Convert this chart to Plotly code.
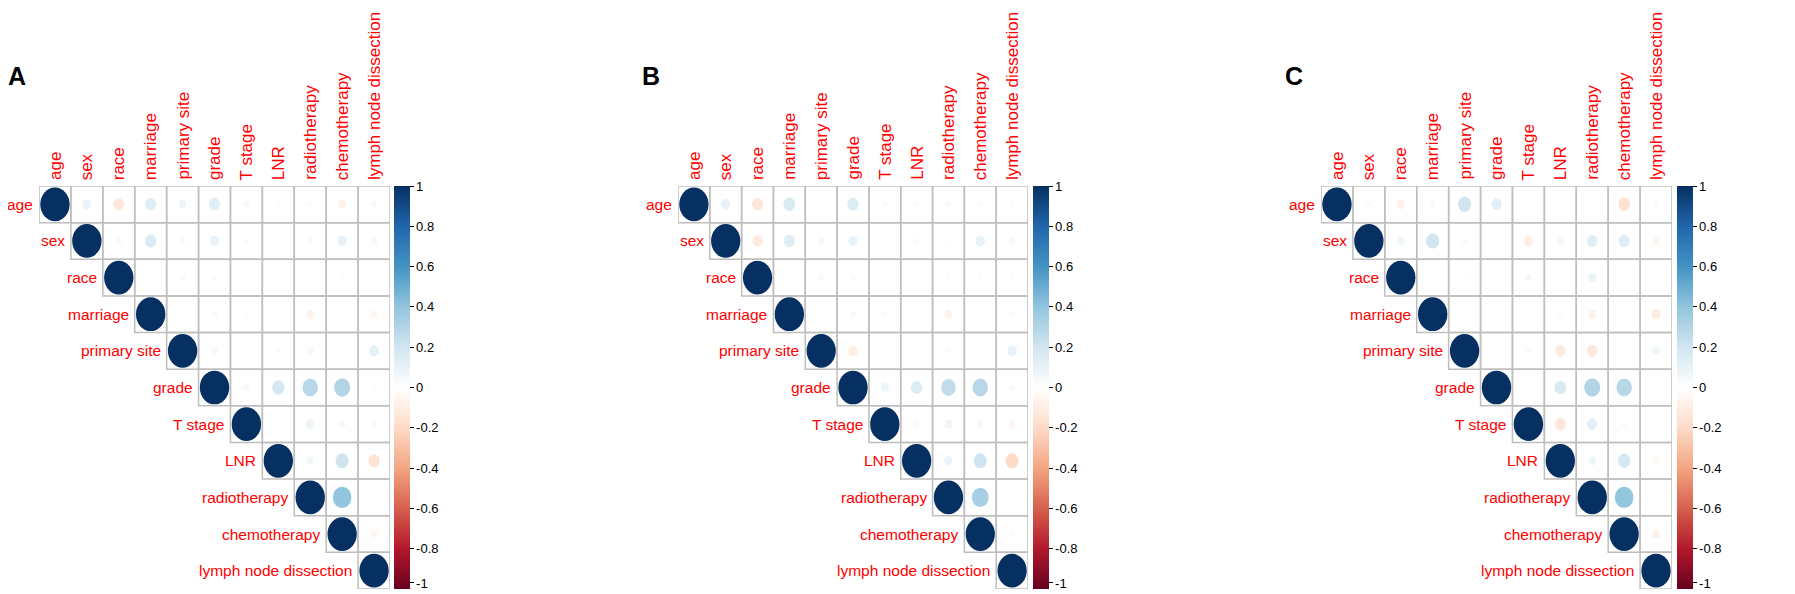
import numpy as np
import plotly.graph_objects as go
from plotly.colors import sample_colorscale

variables = ["age", "sex", "race", "marriage", "primary site", "grade",
             "T stage", "LNR", "radiotherapy", "chemotherapy",
             "lymph node dissection"]

panel_letters = ["A", "B", "C"]

# upper triangle of each correlation matrix, row by row from the diagonal
corr_a = [
    [1, 0.09, -0.13, 0.14, 0.07, 0.14, 0.04, -0.02, -0.03, -0.07, 0.04],
    [1, -0.04, 0.15, 0.04, 0.10, -0.03, 0.01, 0.04, 0.10, -0.05],
    [1, 0.01, -0.04, -0.03, 0.00, 0.00, 0.00, -0.02, 0.01],
    [1, 0.00, 0.04, -0.02, 0.00, -0.07, 0.00, -0.05],
    [1, -0.05, 0.00, -0.03, -0.05, 0.01, 0.11],
    [1, 0.05, 0.18, 0.28, 0.30, -0.02],
    [1, 0.00, 0.08, 0.05, -0.04],
    [1, 0.06, 0.20, -0.15],
    [1, 0.40, 0.00],
    [1, -0.05],
    [1],
]

corr_b = [
    [1, 0.10, -0.14, 0.16, 0.01, 0.15, 0.03, -0.03, -0.04, -0.03, 0.02],
    [1, -0.12, 0.14, 0.05, 0.10, 0.01, -0.03, -0.02, 0.10, -0.05],
    [1, 0.01, -0.04, -0.03, 0.01, 0.00, -0.02, -0.02, -0.02],
    [1, 0.00, 0.04, -0.03, 0.00, -0.07, 0.00, -0.03],
    [1, -0.10, 0.00, 0.01, -0.03, 0.00, 0.10],
    [1, 0.08, 0.15, 0.25, 0.28, -0.04],
    [1, 0.03, 0.07, 0.06, -0.06],
    [1, 0.08, 0.20, -0.20],
    [1, 0.33, 0.00],
    [1, -0.03],
    [1],
]

corr_c = [
    [1, 0.03, -0.08, 0.04, 0.20, 0.12, 0.02, 0.00, -0.02, -0.16, 0.03],
    [1, 0.07, 0.20, 0.03, 0.02, -0.10, 0.06, 0.13, 0.14, -0.06],
    [1, -0.01, -0.02, 0.00, 0.05, 0.00, 0.08, 0.01, 0.00],
    [1, 0.00, 0.01, 0.00, -0.03, -0.07, 0.01, -0.10],
    [1, 0.01, 0.03, -0.12, -0.13, 0.00, 0.07],
    [1, 0.01, 0.16, 0.30, 0.28, 0.00],
    [1, -0.14, 0.12, 0.03, -0.02],
    [1, 0.07, 0.18, -0.05],
    [1, 0.40, 0.01],
    [1, -0.07],
    [1],
]

cbar_ticks = [1, 0.8, 0.6, 0.4, 0.2, 0, -0.2, -0.4, -0.6, -0.8, -1]

# corrplot RdBu palette
rdbu = ["#67001F", "#B2182B", "#D6604D", "#F4A582", "#FDDBC7", "#FFFFFF",
        "#D1E5F0", "#92C5DE", "#4393C3", "#2166AC", "#053061"]
colorscale = [[k / 10, c] for k, c in enumerate(rdbu)]

W, H = 1795, 594
OFF = 8  # default body margin of the html page
FW, FH = W - OFF, H - OFF
grid_col = "#BEBEBE"
lab_col = "#FF0000"
font_lab = "Liberation Sans, Arial, sans-serif"


def px(x):
    # page pixel -> paper x
    return (x - OFF) / FW


def py(y):
    # page pixel (from top) -> paper y
    return 1 - (y - OFF) / FH


# page placement of each panel: grid left, grid right, colorbar left, letter x
panel_px = [(39, 390, 394, 17), (678, 1028, 1033, 651), (1321, 1672, 1677, 1294)]
grid_top, grid_bot = 186, 589

fig = go.Figure()
shapes = []
annotations = []

for p, corr in enumerate([corr_a, corr_b, corr_c]):
    sfx = "" if p == 0 else str(p + 1)
    xref, yref = "x" + sfx, "y" + sfx
    gx0, gx1, cbx, letx = panel_px[p]

    xs, ys, vals, txt = [], [], [], []
    for i, row in enumerate(corr):
        for k, r in enumerate(row):
            j = i + k
            xs.append(j)
            ys.append(i)
            vals.append(r)
            txt.append("%s / %s: %.2f" % (variables[i], variables[j], r))
            shapes.append(dict(type="rect", xref=xref, yref=yref,
                               x0=j - 0.5, x1=j + 0.5, y0=i - 0.5, y1=i + 0.5,
                               line=dict(color=grid_col, width=1.5),
                               fillcolor="rgba(0,0,0,0)", layer="above"))

    # circles after the grid, radius ~ sqrt(|r|) like corrplot
    for xx, yy, r in zip(xs, ys, vals):
        rad = 0.46 * np.sqrt(abs(r))
        if rad < 0.01:
            continue
        col = sample_colorscale(colorscale, [(r + 1) / 2])[0]
        shapes.append(dict(type="circle", xref=xref, yref=yref,
                           x0=xx - rad, x1=xx + rad, y0=yy - rad, y1=yy + rad,
                           fillcolor=col, line=dict(width=0), layer="above"))

    # bottom tick nudged up a little so its "-1" label stays on the page
    tick_pos = [t if t > -1 else -0.97 for t in cbar_ticks]
    fig.add_trace(go.Scatter(
        x=xs, y=ys, mode="markers", xaxis=xref, yaxis=yref,
        hovertext=txt, hoverinfo="text",
        marker=dict(color=vals, colorscale=colorscale, cmin=-1, cmax=1,
                    size=24, opacity=0, showscale=True,
                    colorbar=dict(x=px(cbx), xanchor="left", xpad=0,
                                  y=py(grid_bot), yanchor="bottom", ypad=0,
                                  len=(grid_bot - grid_top) / FH, lenmode="fraction",
                                  thickness=16, outlinewidth=0,
                                  tickvals=tick_pos,
                                  ticktext=[("%g" % t) for t in cbar_ticks],
                                  ticks="outside", ticklen=4, tickwidth=1,
                                  tickcolor="black", ticklabeloverflow="allow",
                                  tickfont=dict(family=font_lab, size=13, color="black"))),
        showlegend=False))

    fig.layout["xaxis" + sfx] = dict(domain=[px(gx0), px(gx1)], range=[-0.5, 10.5],
                                    visible=False, fixedrange=True, anchor=yref)
    fig.layout["yaxis" + sfx] = dict(domain=[py(grid_bot), py(grid_top)],
                                    range=[10.5, -0.5], visible=False,
                                    fixedrange=True, anchor=xref)

    for i, name in enumerate(variables):
        # row labels, left of the diagonal cell
        annotations.append(dict(text=name, xref=xref, yref=yref, x=i - 0.5, y=i,
                                xanchor="right", yanchor="middle", xshift=-5,
                                showarrow=False, borderpad=0,
                                font=dict(family=font_lab, size=15.5, color=lab_col)))
        # column labels, rotated above the grid
        annotations.append(dict(text=name, xref=xref, yref=yref, x=i, y=-0.5,
                                xanchor="center", yanchor="bottom", yshift=5,
                                textangle=-90, showarrow=False, borderpad=0,
                                font=dict(family=font_lab, size=17, color=lab_col)))

    annotations.append(dict(text="<b>%s</b>" % panel_letters[p], xref="paper", yref="paper",
                            x=px(letx), y=py(76), xanchor="center", yanchor="middle",
                            showarrow=False,
                            font=dict(family=font_lab, size=25, color="black")))

fig.update_layout(width=FW, height=FH, margin=dict(l=0, r=0, t=0, b=0),
                  paper_bgcolor="white", plot_bgcolor="white",
                  shapes=shapes, annotations=annotations, showlegend=False)

fig.write_html("out.html")
